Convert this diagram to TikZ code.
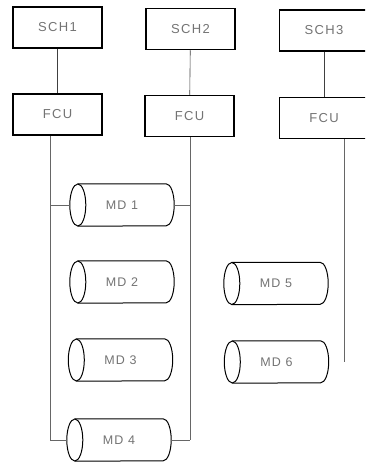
\documentclass[tikz,border=0pt]{standalone}
\usepackage{fontspec}
\setmainfont[LetterSpace=10]{Liberation Sans}
\begin{document}
\begin{tikzpicture}[x=1pt,y=1pt,
  unitbox/.style={draw=black,line width=1.5pt,minimum width=89pt,minimum height=41pt,inner sep=0pt,
    font=\fontsize{13}{15}\selectfont,text=black!55},
  mdtext/.style={minimum width=104pt,minimum height=42pt,inner sep=0pt,
    font=\fontsize{12.5}{14}\selectfont,text=black!55},
  cylline/.style={line width=1pt},
  bus/.style={line width=0.5pt,draw=black!60},
  link/.style={line width=0.6pt,draw=black!75}]
\useasboundingbox (0,0) rectangle (365,-463);
\clip (0,0) rectangle (365,-463);
\newcommand\mdcyl[4]{%
  \node[mdtext] (#1) at (#2,#3) {#4};
  \draw[cylline] ([xshift=8pt]#1.north west) -- ([xshift=-8pt]#1.north east)
     arc[start angle=90,end angle=-90,x radius=8pt,y radius=21pt]
     -- ([xshift=8pt]#1.south west);
  \draw[cylline] ([xshift=8pt]#1.west) ellipse[x radius=8pt,y radius=21pt];
}
% system control units
\node[unitbox] (s1) at (57.5,-27.5) {SCH1};
\node[unitbox] (s2) at (190.5,-29) {SCH2};
\node[unitbox] (s3) at (324,-30.5) {SCH3};
\node[unitbox] (f1) at (57.5,-114.5) {FCU};
\node[unitbox] (f2) at (189.5,-116) {FCU};
\node[unitbox] (f3) at (324,-118) {FCU};
\draw[link] (s1) -- (f1);
\draw[link] (s2) -- (f2);
\draw[link] (s3) -- (f3);
% drives
\mdcyl{md1}{122}{-205}{MD 1}
\mdcyl{md2}{122}{-282}{MD 2}
\mdcyl{md3}{120.5}{-360}{MD 3}
\mdcyl{md4}{119}{-440}{MD 4}
\mdcyl{md5}{276}{-283.5}{MD 5}
\mdcyl{md6}{276.5}{-362}{MD 6}
% buses
\coordinate (b1) at (50,-440);
\coordinate (b2) at (190,-440);
\coordinate (b3) at (344,-362);
\draw[bus] (f1.south -| b1) -- (b1);
\draw[bus] (f2.south -| b2) -- (b2);
\draw[bus] (f3.south -| b3) -- (b3);
\draw[bus] (md1.west) -- (md1.west -| b1);
\draw[bus] (md1.east) -- (md1.east -| b2);
\draw[bus] (md4.west) -- (md4.west -| b1);
\draw[bus] (md4.east) -- (md4.east -| b2);
\end{tikzpicture}
\end{document}
